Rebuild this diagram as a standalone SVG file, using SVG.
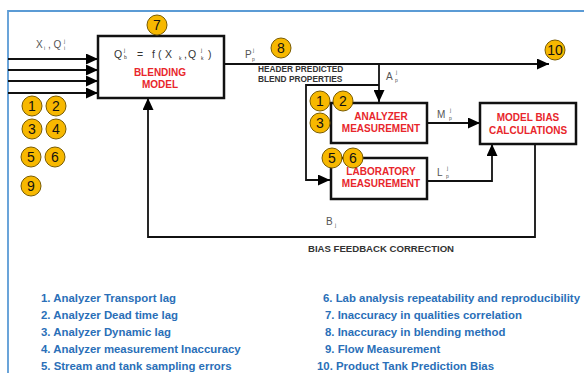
<svg xmlns="http://www.w3.org/2000/svg" width="584" height="373" viewBox="0 0 584 373">
<defs>
<marker id="ah" markerUnits="userSpaceOnUse" markerWidth="13" markerHeight="11" refX="12" refY="5.5" orient="auto">
<path d="M0,0 L12,5.5 L0,11 Z" fill="#000"/>
</marker>
<style>
.box{fill:#fff;stroke:#111;stroke-width:2.5}
.ln{fill:none;stroke:#111;stroke-width:1.8}
.red{font-family:"Liberation Sans",Arial,sans-serif;font-weight:bold;font-size:10px;fill:#e8262b;text-anchor:middle}
.hdr{font-family:"Liberation Sans",Arial,sans-serif;font-weight:bold;font-size:8.3px;fill:#333}
.lbl{font-family:"Liberation Sans",Arial,sans-serif;font-size:10px;fill:#555}
.fm{font-family:"Liberation Sans",Arial,sans-serif;font-size:10.5px;fill:#333}
.sm{font-family:"Liberation Sans",Arial,sans-serif;font-size:5px;fill:#555}
.num circle{fill:#f7b800;stroke:#7a5c00;stroke-width:1}
.num text{font-family:"Liberation Sans",Arial,sans-serif;font-size:14px;fill:#111;text-anchor:middle}
.leg{font-family:"Liberation Sans",Arial,sans-serif;font-weight:bold;font-size:11.4px;fill:#2a6fb8}
</style>
</defs>
<rect width="584" height="373" fill="#fff"/>
<path d="M8,373 L8,11 L584,11" fill="none" stroke="#5b9bd5" stroke-width="1.8"/>

<g id="connectors">
<line class="ln" x1="8" y1="59" x2="98" y2="59" marker-end="url(#ah)"/>
<line class="ln" x1="8" y1="70" x2="98" y2="70" marker-end="url(#ah)"/>
<line class="ln" x1="8" y1="81" x2="98" y2="81" marker-end="url(#ah)"/>
<line class="ln" x1="8" y1="93" x2="98" y2="93" marker-end="url(#ah)"/>
<line class="ln" x1="224" y1="64" x2="549" y2="64" marker-end="url(#ah)"/>
<line class="ln" x1="379" y1="64" x2="379" y2="102" marker-end="url(#ah)"/>
<polyline class="ln" points="379,85 306,85 306,180 330,180" marker-end="url(#ah)"/>
<line class="ln" x1="427" y1="123" x2="480" y2="123" marker-end="url(#ah)"/>
<polyline class="ln" points="427,181 492,181 492,144" marker-end="url(#ah)"/>
<polyline class="ln" points="535,144 535,237 148,237 148,98" marker-end="url(#ah)"/>
</g>

<g id="blending">
<rect class="box" x="98" y="36" width="126" height="62"/>
<text class="fm" x="114" y="58">Q</text>
<text class="sm" x="124" y="52" style="fill:#333">j</text>
<text class="sm" x="124" y="59" style="fill:#333">b</text>
<text class="fm" x="137" y="58">=</text>
<text class="fm" x="152" y="58">f</text>
<text class="fm" x="158" y="58">(</text>
<text class="fm" x="165" y="58">X</text>
<text class="sm" x="179" y="60" style="fill:#333">k</text>
<text class="fm" x="184" y="58">,</text>
<text class="fm" x="188" y="58">Q</text>
<text class="sm" x="201" y="52" style="fill:#333">j</text>
<text class="sm" x="201" y="60" style="fill:#333">k</text>
<text class="fm" x="208" y="58">)</text>
<text class="red" x="160" y="76">BLENDING</text>
<text class="red" x="160" y="88">MODEL</text>
</g>

<g id="analyzer">
<rect class="box" x="331" y="103" width="96" height="40"/>
<text class="red" x="381" y="120">ANALYZER</text>
<text class="red" x="381" y="132">MEASUREMENT</text>
</g>

<g id="laboratory">
<rect class="box" x="331" y="158" width="96" height="41"/>
<text class="red" x="381" y="175">LABORATORY</text>
<text class="red" x="381" y="187">MEASUREMENT</text>
</g>

<g id="modelbias">
<rect class="box" x="480" y="103" width="96" height="41"/>
<text class="red" x="528" y="121">MODEL BIAS</text>
<text class="red" x="528" y="134">CALCULATIONS</text>
</g>

<g id="labels">
<text class="lbl" x="36" y="48">X</text>
<text class="sm" x="44" y="50">i</text>
<text class="lbl" x="48" y="48">, Q</text>
<text class="sm" x="64" y="43">j</text>
<text class="sm" x="64" y="50">i</text>
<text class="lbl" x="245" y="58">P</text>
<text class="sm" x="253" y="52">j</text>
<text class="sm" x="252" y="61">p</text>
<text class="hdr" x="258" y="72">HEADER PREDICTED</text>
<text class="hdr" x="258" y="82">BLEND PROPERTIES</text>
<text class="lbl" x="386" y="80">A</text>
<text class="sm" x="396" y="74">j</text>
<text class="sm" x="395" y="82">p</text>
<text class="lbl" x="437" y="118">M</text>
<text class="sm" x="450" y="112">j</text>
<text class="sm" x="449" y="120">p</text>
<text class="lbl" x="437" y="176">L</text>
<text class="sm" x="447" y="170">j</text>
<text class="sm" x="446" y="178">p</text>
<text class="lbl" x="326" y="225">B</text>
<text class="sm" x="335" y="227">j</text>
<text class="hdr" x="308" y="252" style="font-size:9.6px">BIAS FEEDBACK CORRECTION</text>
</g>

<g id="n1" class="num"><circle cx="32" cy="106" r="10"/><text x="32" y="111">1</text></g>
<g id="n2" class="num"><circle cx="56" cy="106" r="10"/><text x="56" y="111">2</text></g>
<g id="n3" class="num"><circle cx="32" cy="129" r="10"/><text x="32" y="134">3</text></g>
<g id="n4" class="num"><circle cx="56" cy="129" r="10"/><text x="56" y="134">4</text></g>
<g id="n5" class="num"><circle cx="31" cy="157" r="10"/><text x="31" y="162">5</text></g>
<g id="n6" class="num"><circle cx="55" cy="157" r="10"/><text x="55" y="162">6</text></g>
<g id="n9" class="num"><circle cx="31" cy="186" r="10"/><text x="31" y="191">9</text></g>
<g id="n7" class="num"><circle cx="157" cy="25" r="10"/><text x="157" y="30">7</text></g>
<g id="n8" class="num"><circle cx="281" cy="48" r="10"/><text x="281" y="53">8</text></g>
<g id="n10" class="num"><circle cx="555" cy="50" r="10"/><text x="555" y="55">10</text></g>
<g id="a1" class="num"><circle cx="320" cy="101" r="10"/><text x="320" y="106">1</text></g>
<g id="a2" class="num"><circle cx="343" cy="101" r="10"/><text x="343" y="106">2</text></g>
<g id="a3" class="num"><circle cx="320" cy="123" r="10"/><text x="320" y="128">3</text></g>
<g id="a5" class="num"><circle cx="332" cy="158" r="10"/><text x="332" y="163">5</text></g>
<g id="a6" class="num"><circle cx="353" cy="158" r="10"/><text x="353" y="163">6</text></g>

<g id="legend">
<text class="leg" x="41" y="302">1. Analyzer Transport lag</text>
<text class="leg" x="41" y="319">2. Analyzer Dead time lag</text>
<text class="leg" x="41" y="336">3. Analyzer Dynamic lag</text>
<text class="leg" x="41" y="353">4. Analyzer measurement Inaccuracy</text>
<text class="leg" x="41" y="370">5. Stream and tank sampling errors</text>
<text class="leg" x="323" y="302">6. Lab analysis repeatability and reproducibility</text>
<text class="leg" x="325" y="319">7. Inaccuracy in qualities correlation</text>
<text class="leg" x="325" y="336">8. Inaccuracy in blending method</text>
<text class="leg" x="325" y="353">9. Flow Measurement</text>
<text class="leg" x="317" y="370">10. Product Tank Prediction Bias</text>
</g>
</svg>
